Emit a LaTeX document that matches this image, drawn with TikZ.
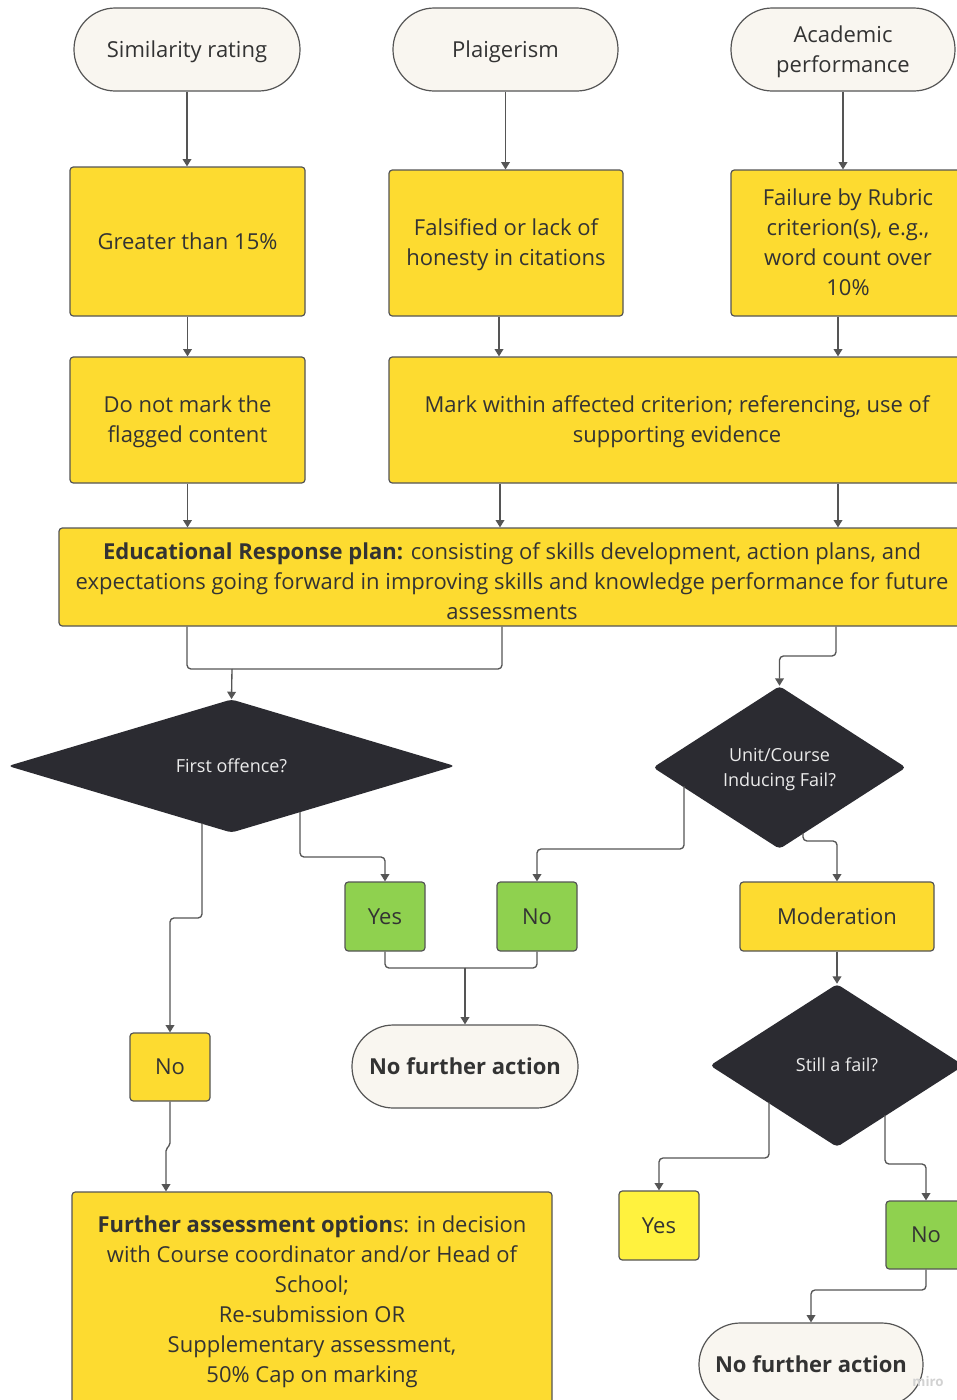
\documentclass[tikz,border=0pt]{standalone}
\usepackage{fontspec}
\setmainfont{Open Sans}
\usetikzlibrary{shapes.geometric,arrows.meta,calc}
\definecolor{ylw}{HTML}{FDDB30}
\definecolor{grn}{HTML}{8FD14F}
\definecolor{lyl}{HTML}{FFF23E}
\definecolor{cream}{HTML}{F9F6F0}
\definecolor{dark}{HTML}{2B2B31}
\definecolor{linec}{HTML}{555555}
\definecolor{txt}{HTML}{333333}
\newcommand\fs{\fontsize{16.5}{22.5}\selectfont}
\newcommand\ds{\fontsize{13.5}{18.5}\selectfont}
\newcommand\mst{\vrule height 16pt depth 4.2pt width 0pt}
\newcommand\dst{\vrule height 13pt depth 3.4pt width 0pt}
\tikzset{
  sz/.style 2 args={minimum width=#1*0.75pt, minimum height=#2*0.75pt},
  base/.style={draw=linec, line width=0.9pt, font=\fs, text=txt, align=center, inner sep=0pt,
    execute at begin node=\mst, execute at end node=\mst},
  term/.style={base, fill=cream, rounded corners=31pt},
  ybox/.style={base, fill=ylw, rounded corners=2.5pt},
  gbox/.style={base, fill=grn, rounded corners=2.5pt},
  lybox/.style={base, fill=lyl, rounded corners=2.5pt},
  dec/.style={diamond, fill=dark, draw=none, text=white!92!black, font=\ds, align=center, inner sep=0pt, rounded corners=3pt,
    execute at begin node=\dst, execute at end node=\dst},
  conn/.style={draw=linec, line width=1pt, rounded corners=3pt},
  arr/.style={conn, -{Triangle[length=5.5pt,width=6.5pt]}},
}
\begin{document}
\begin{tikzpicture}[x=0.75pt,y=-0.75pt]
\useasboundingbox (0,0) rectangle (957,1400);
\fill[white] (0,0) rectangle (957,1400);
\clip (0,0) rectangle (957,1400);

% top terminals
\node[term, sz={226}{83}] (sim) at (187,49.5) {Similarity rating};
\node[term, sz={225}{83}] (plag) at (505.5,49.5) {Plaigerism};
\node[term, sz={224}{83}] (acad) at (843,49.5) {\mst Academic\\performance\mst};

% second row
\node[ybox, sz={235}{149}] (gt) at (187.5,241.5) {Greater than 15\%};
\node[ybox, sz={234}{146}] (fals) at (506,243) {\mst Falsified or lack of\\honesty in citations\mst};
\node[ybox, sz={234}{146}] (fail) at (848,243) {\mst Failure by Rubric\\criterion(s), e.g.,\\word count over\\10\%\mst};

% third row
\node[ybox, sz={235}{126}] (dnm) at (187.5,420) {\mst Do not mark the\\flagged content\mst};
\node[ybox, sz={576}{126}] (mark) at (677,420) {\mst Mark within affected criterion; referencing, use of\\supporting evidence\mst};

% educational response
\node[ybox, sz={906}{98}] (edu) at (512,577) {\vrule height 23.5pt width 0pt\textbf{Educational Response plan:} consisting of skills development, action plans, and\\expectations going forward in improving skills and knowledge performance for future\\assessments};

% decisions
\node[dec, sz={447}{132}] (first) at (231.5,766) {First offence?};
\node[dec, sz={253}{163}] (unit) at (779.5,767.5) {\dst Unit/Course\\Inducing Fail?\dst};

\node[gbox, sz={80}{69}] (yes1) at (385,916.5) {Yes};
\node[gbox, sz={80}{69}] (no1) at (537,916.5) {No};
\node[ybox, sz={194}{69}] (mod) at (837,916.5) {Moderation};

\node[dec, sz={254}{163}] (still) at (837,1065.5) {Still a fail?};

\node[ybox, sz={80}{68}] (no2) at (170,1067) {No};
\node[term, sz={226}{83}] (nfa1) at (465,1066.5) {\textbf{No further action}};

\node[ybox, sz={480}{216}] (further) at (312,1300) {\mst\textbf{Further assessment option}s: in decision\\with Course coordinator and/or Head of\\School;\\Re-submission OR\\Supplementary assessment,\\50\% Cap on marking\mst};

\node[lybox, sz={80}{69}] (yes2) at (659,1225.5) {Yes};
\node[gbox, sz={80}{68}] (no3) at (926,1235) {No};
\node[term, sz={224}{83}] (nfa2) at (811,1364.5) {\textbf{No further action}};

\node[text=gray!35, font=\fontsize{10}{10}\selectfont\bfseries, inner sep=0pt] (miro) at (928,1381) {miro};

% connector anchors
\coordinate (fo1) at (300,812);
\coordinate (fo2) at (202,823);
\coordinate (uc1) at (684,786);
\coordinate (uc2) at (803,833);
\coordinate (sf1) at (769,1102);
\coordinate (sf2) at (885,1115);
\coordinate (j1) at (232,669);
\coordinate (j2) at (465,968);

% connectors
\draw[arr] (sim.south) -- (sim.south |- gt.north);
\draw[arr] (plag.south) -- (plag.south |- fals.north);
\draw[arr] (acad.south) -- (acad.south |- fail.north);
\draw[arr] (gt.south) -- (gt.south |- dnm.north);
\draw[arr] (fals.south -| 499,0) -- (mark.north -| 499,0);
\draw[arr] (fail.south -| 838,0) -- (mark.north -| 838,0);
\draw[arr] (dnm.south) -- (dnm.south |- edu.north);
\draw[arr] (mark.south -| 500,0) -- (edu.north -| 500,0);
\draw[arr] (mark.south -| 838,0) -- (edu.north -| 838,0);

\draw[conn] (edu.south -| 187,0) |- (j1);
\draw[conn] (edu.south -| 502,0) |- (j1);
\draw[arr] (j1) -- (first.north);
\draw[arr] (edu.south -| 836,0) -- (836,656) -| (unit.north);

\draw[arr] (fo1) -- (300,857) -| (yes1.north);
\draw[arr] (fo2) -- (202,918) -| (no2.north);
\draw[arr] (uc1) -- (684,849) -| (no1.north);
\draw[arr] (uc2) -- (803,841) -| (mod.north);

\draw[conn] (yes1.south) |- (j2);
\draw[conn] (no1.south) |- (j2);
\draw[arr] (j2) -- (nfa1.north);

\draw[arr] (mod.south) -- (still.north);
\draw[arr] (sf1) -- (769,1158) -| (yes2.north);
\draw[arr] (sf2) -- (885,1164) -| (no3.north);
\draw[arr] (no3.south) -- (926,1290) -| (nfa2.north);
\draw[arr, rounded corners=1.5pt] (no2.south) -- (170,1145) -- (166,1149) -- (further.north -| 166,0);
\end{tikzpicture}
\end{document}
